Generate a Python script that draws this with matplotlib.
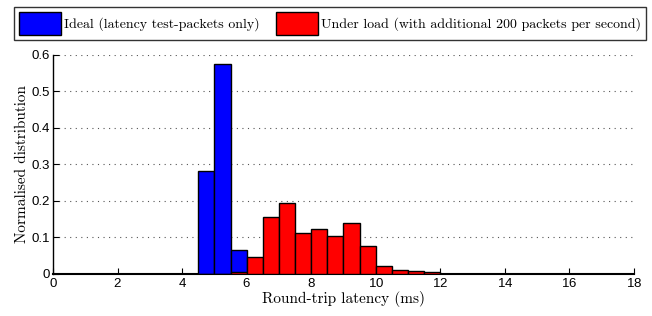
import numpy as np
import matplotlib
matplotlib.use("Agg")
import matplotlib.pyplot as plt

# bin edges every 0.5 ms from 0 to 18
edges = np.arange(0, 18.01, 0.5)
lefts = edges[:-1]

# normalised distribution, ideal case (blue)
ideal = np.zeros(36)
ideal[9] = 0.282
ideal[10] = 0.574
ideal[11] = 0.066

# normalised distribution, under load (red)
load = np.zeros(36)
load_vals = [0.006, 0.047, 0.156, 0.194, 0.111, 0.123, 0.103, 0.139,
             0.076, 0.022, 0.011, 0.0073, 0.0046]
load[11:11 + len(load_vals)] = load_vals

labels = ['Ideal (latency test-packets only)',
          'Under load (with additional 200 packets per second)']

plt.rcParams['axes.formatter.use_mathtext'] = True

fig = plt.figure(figsize=(6.52, 3.16), dpi=100)
ax = fig.add_axes([0.0813, 0.133, 0.891, 0.693])

b1 = ax.bar(lefts, ideal, width=0.5, align='edge', color='#0000ff',
            edgecolor='black', linewidth=1.0, zorder=3)
b2 = ax.bar(lefts, load, width=0.5, align='edge', color='#ff0000',
            edgecolor='black', linewidth=1.0, zorder=3)

ax.set_xlim(0, 18)
ax.set_ylim(0, 0.6)
ax.set_xticks(np.arange(0, 19, 2))
ax.set_yticks(np.arange(0, 0.61, 0.1))
ax.set_yticklabels(['0', '0.1', '0.2', '0.3', '0.4', '0.5', '0.6'])
ax.yaxis.grid(True, linestyle=(0, (1, 4)), color='#555555', linewidth=0.8)
ax.set_axisbelow(True)

for s in ['top', 'right']:
    ax.spines[s].set_visible(False)
ax.spines['left'].set_linewidth(1.0)
ax.spines['bottom'].set_linewidth(1.5)
ax.tick_params(direction='in', length=4, width=0.8, labelsize=9.5,
               pad=2)
for t in ax.get_xticklabels() + ax.get_yticklabels():
    t.set_family('Liberation Sans')

ax.set_xlabel('Round-trip latency (ms)', family='cmr10', fontsize=11,
              labelpad=1)
ax.set_ylabel('Normalised distribution', family='cmr10', fontsize=11,
              labelpad=2)

leg = fig.legend([b1, b2], labels, loc='center', ncol=2,
                 bbox_to_anchor=(0.5062, 0.926), prop={'family': 'cmr10', 'size': 10},
                 frameon=True, fancybox=False, edgecolor='black',
                 handlelength=3.0, handleheight=2.1, columnspacing=1.15,
                 handletextpad=0.25, borderpad=0.38, borderaxespad=0)
leg.get_frame().set_linewidth(1.0)

fig.savefig('out.png', dpi=100)
